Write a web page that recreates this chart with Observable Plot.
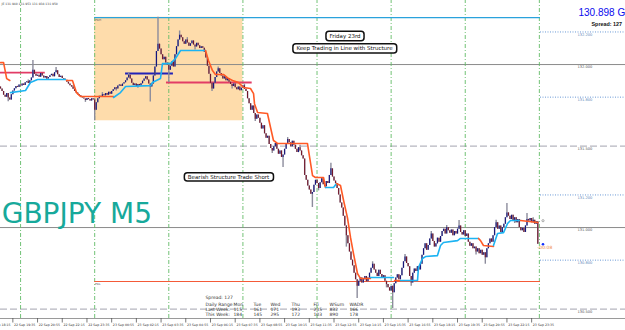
<!DOCTYPE html>
<html><head><meta charset="utf-8">
<script src="https://cdn.jsdelivr.net/npm/d3@7"></script>
<script src="https://cdn.jsdelivr.net/npm/@observablehq/plot@0.6"></script>
<style>html,body{margin:0;padding:0;background:#fff;overflow:hidden}</style>
</head><body><div id="chart"></div>
<script>
// ---------- DATA (prices in points above 130.000, 5-minute bars from 22 Sep 18:55) ----------
const firstBar = "22 Sep 18:55";
const firstOpen = 1862;
const closes = [
1850,1835,1812,1800,1822,1795,1782,
1815,1838,1852,1866,1860,1874,1868,
1880,1872,1888,1895,1884,1900,
1918,1965,1940,1928,
1935,1922,1945,1930,1918,1926,1912,1920,1932,
1940,1925,1950,1962,1938,1920,1928,1915,1910,1903,
1892,1880,1870,1862,1848,1835,1826,1815,1808,1800,
1795,1788,1780,1792,1785,1776,1790,1782,
1720,
1765,1790,1805,1798,1815,1808,1822,1812,1830,1818,1835,
1845,1858,1850,1868,1875,1866,1880,1888,
1900,1918,1935,1912,
1885,1872,1880,1865,1878,1870,1882,
1898,1912,1925,1905,1880,1862,
1880,1930,1985,2080,2125,
2095,2060,2030,2045,2010,1995,1965,1990,2015,1985,
2060,2110,2150,2180,2165,
2140,2125,2150,2132,2112,2128,2145,2120,2108,2130,2115,2098,2110,
2100,2075,
2040,1990,1940,1885,
1850,
1885,1920,1955,1975,
1945,1930,1912,1925,1900,1915,
1892,1878,1865,1880,1858,1845,1862,1840,
1855,1870,1848,1835,
1790,1760,1720,
1745,1700,1665,1690,
1670,1640,1605,1625,
1575,1548,1560,
1510,1485,1470,1495,
1515,1480,1450,1470,1430,1445,
1480,1510,1540,1520,1495,1530,1505,1480,1460,
1490,1470,1440,1420,
1320,
1290,1255,1230,1205,1215,
1260,1290,1270,1240,1275,1300,1262,1250,1282,1270,
1320,1360,
1310,1285,1270,
1240,1200,1150,
1120,1070,1010,950,900,
850,800,765,
720,680,640,
670,690,660,680,700,668,690,
720,750,775,740,
720,700,738,712,690,705,
670,650,630,610,640,600,655,
690,710,680,705,
750,790,820,780,760,
700,660,
720,745,730,760,740,775,
830,870,900,860,890,
930,960,915,880,
900,935,910,945,
975,990,960,1000,980,
965,985,950,975,960,990,1010,
970,955,980,945,960,
910,885,900,870,
880,850,870,840,860,
830,845,815,
870,900,930,910,950,
1000,1030,
990,1010,970,1000,1020,
1060,1090,
1070,1050,1075,1040,1060,1030,1050,
1000,980,995,970,
1010,1050,
1040,1055,1030,1045,1020,1035,
898
];
// visible wicks: [bar, high, low]
const wicks = [[5,null,1772],[18,1906,null],[21,2025,null],[30,null,1905],[36,1982,null],[47,1872,null],[55,null,1768],[61,1790,1655],[66,1828,null],[75,null,1838],[83,1948,null],[89,null,1855],[97,null,1770],[102,2290,null],[109,null,1890],[116,2206,null],[121,2165,null],[126,null,2090],[137,null,1835],[141,1985,null],[150,null,1850],[158,1880,null],[165,null,1650],[176,null,1455],[183,null,1368],[186,1552,null],[194,1505,null],[202,null,1123],[206,null,1225],[214,1395,null],[224,null,880],[231,null,565],[241,790,null],[250,null,630],[254,null,503],[262,835,null],[266,null,640],[279,975,null],[289,1012,null],[297,1043,null],[308,null,832],[314,null,775],[321,1045,null],[328,1147,null],[333,null,1025],[341,1086,null],[345,1060,null]];
// trailing stop line: segments of [bar, points]; dn = above price, up = below price
const trailSegs = [
 ["dn",[[0,2012],[2,2012],[4,1914],[6,1902]]],
 ["up",[[6.5,1828],[16.2,1841],[19.4,1890],[24,1908],[42,1908]]],
 ["dn",[[42.7,1902],[46.6,1902],[49.2,1828],[51.8,1804],[73.2,1804]]],
 ["up",[[73.2,1798],[77.7,1828],[81,1865],[97.2,1871],[98.4,1890],[103.6,1914],[104.9,2006],[110.1,2006],[113.3,2037],[116.6,2086],[132.8,2086]]],
 ["dn",[[132.8,2086],[134.7,2025],[137.3,1963],[139.2,1939],[144.4,1939],[147.7,1914],[150.3,1902],[154.1,1890],[157.4,1859],[161.9,1853],[163.9,1822],[164.5,1760],[166.5,1706],[172.9,1700],[174.9,1614],[176.8,1534],[179.4,1516],[198.8,1516],[199.5,1473],[202.1,1319],[204,1307],[209.2,1307],[210.5,1246]]],
 ["up",[[210.5,1246],[215.7,1246],[217.6,1270]]],
 ["dn",[[217.6,1270],[220.2,1258],[222.2,1166],[224.7,1061],[226.7,939],[228.6,841],[231.2,718],[233.2,687],[239.6,687]]],
 ["up",[[239.6,694],[254.5,694]]],
 ["dn",[[255.2,675],[259.1,675]]],
 ["up",[[259.1,675],[270.1,675],[270.7,755],[273.3,810],[275.3,822],[283,828],[285,890],[286.9,908],[296,920],[297.9,933],[309.6,933]]],
 ["dn",[[309.6,933],[310.9,920],[312.8,890],[319.3,884]]],
 ["up",[[319.3,890],[321.9,963],[325.8,969],[328.4,1025],[330.3,1043],[336.8,1043]]],
 ["dn",[[336.8,1043],[348,1031]]]
];
// structure levels
const structFrom = [0, 81, 107.5];
const structTo = [29, 112, 163];
const structPrice = [131.951, 131.945, 131.890];
const structKind = ["res", "sup", "res"];
const pdh = 132.288, pdl = 130.669;
const sessionStart = "23 Sep 00:00", sessionEnd = "23 Sep 08:00";
const separators = ["22 Sep 20:00","23 Sep 00:00","23 Sep 04:00","23 Sep 08:00","23 Sep 12:00","23 Sep 16:00","23 Sep 20:00","24 Sep 00:00"];
const tickLabels = ["22 Sep 18:15","22 Sep 19:35","22 Sep 20:55","22 Sep 22:15","22 Sep 23:35","23 Sep 00:55","23 Sep 02:15","23 Sep 03:35","23 Sep 04:55","23 Sep 06:15","23 Sep 07:35","23 Sep 08:55","23 Sep 10:15","23 Sep 11:35","23 Sep 12:55","23 Sep 14:15","23 Sep 15:35","23 Sep 16:55","23 Sep 18:15","23 Sep 19:35","23 Sep 20:55","23 Sep 22:15","23 Sep 23:35"];
const priceLevels = [132.2, 132.0, 131.8, 131.5, 131.2, 131.0, 130.8, 130.5];
const priceKinds = ["dot","solid","dot","dash","dot","solid","dot","dash"];
const bid = 130.898;
const statDays = ["Mon","Tue","Wed","Thu","Fri","WSum","WADR"];
const lastWeek = [115,161,171,193,235,832,166];
const thisWeek = [184,145,295,172,103,890,178];
const spread = 127;
const headerText = "JE 131.940 131.953 131.938 131.950";
const annotations = ["Friday 23rd", "Keep Trading in Line with Structure", "Bearish Structure Trade Short"];

// ---------- LAYOUT ----------
const W = 625, H = 330, plotW = 540, plotH = 318;
const pxPerBar = 1.544;
const xMax = plotW / pxPerBar;
const yTop = 132.393, yBot = 130.442;
const xi = px => px / pxPerBar;
const yp = py => yTop - py * (yTop - yBot) / plotH;
const xRight = xi(W);
const P = v => 130 + v / 1000;
const barOf = s => { const [d, , hm] = s.split(" "); const [h, m] = hm.split(":").map(Number);
  return ((+d - 22) * 1440 + h * 60 + m - (18 * 60 + 55)) / 5; };

const wickMap = new Map(wicks.map(([i, h, l]) => [i, {h, l}]));
const bull = "#16167e", bear = "#74162a";
const bars = closes.map((c, i) => {
  const o = i === 0 ? firstOpen : closes[i - 1];
  const top = Math.max(o, c), bot = Math.min(o, c);
  const w = wickMap.get(i) || {};
  return {i, hi: P(w.h != null ? Math.max(w.h, top) : top), lo: P(w.l != null ? Math.min(w.l, bot) : bot),
    bHi: P(Math.max(top, bot + 5)), bLo: P(bot), col: c >= o ? bull : bear};
});
const trail = trailSegs.flatMap(([side, pts], k) => pts.map(([i, v]) => ({i, p: P(v), seg: k, col: side === "dn" ? "#ff5a26" : "#1cb3f2"})));
const s0 = barOf(sessionStart), s1 = barOf(sessionEnd);
const inSess = bars.filter(b => b.i >= s0 && b.i < s1);
const session = {a: s0, b: s1, hi: d3.max(inSess, b => b.hi), lo: d3.min(inSess, b => b.lo)};
const structs = structPrice.map((p, k) => ({a: structFrom[k], b: structTo[k], p, col: structKind[k] === "sup" ? "#2222b8" : "#e23c66"}));
const levels = priceLevels.map((p, k) => ({p, kind: priceKinds[k]}));
const tickIdx = tickLabels.map(barOf);
const labelMap = new Map(tickIdx.map((t, k) => [t, tickLabels[k]]));
const sepIdx = separators.map(barOf);

const F = "DejaVu Sans, Verdana, sans-serif";
const FA = "Liberation Sans, Arial, sans-serif";
const txt = (s, px, py, o = {}) => Plot.text([s], {x: xi(px), y: yp(py), text: d => d, textAnchor: "start", fontFamily: F, fontSize: 4.5, fill: "#333", ...o});

const colX = [233, 253, 270, 291, 313, 329, 349];
const statMarks = [];
statMarks.push(txt("Spread: " + spread, 205, 297.5));
statMarks.push(txt("Daily Range", 205, 304.5));
statMarks.push(txt("Last Week:", 205, 309.5));
statMarks.push(txt("This Week:", 205, 314.5));
statDays.forEach((d, k) => {
  statMarks.push(txt(d, colX[k], 304.5));
  statMarks.push(txt(String(lastWeek[k]), colX[k], 309.5));
  statMarks.push(txt(String(thisWeek[k]), colX[k], 314.5));
});

const svg = Plot.plot({
  width: W, height: H, marginLeft: 0, marginRight: W - plotW, marginTop: 0, marginBottom: H - plotH,
  x: {type: "linear", domain: [0, xMax], axis: null},
  y: {domain: [yBot, yTop], axis: null},
  color: {type: "identity"},
  style: {background: "#fff", fontFamily: FA},
  marks: [
    Plot.rect([session], {x1: "a", x2: "b", y1: "lo", y2: "hi", fill: "#fedcab"}),
    Plot.ruleY(levels.filter(l => l.kind === "dash"), {y: "p", x1: 0, x2: xRight, stroke: "#b6b6c0", strokeWidth: 1.2, strokeDasharray: "7,3"}),
    Plot.ruleY(levels.filter(l => l.kind === "solid"), {y: "p", x1: 0, x2: xRight, stroke: "#8a8a8a", strokeWidth: 1}),
    Plot.ruleY(levels.filter(l => l.kind === "dot"), {y: "p", x1: xMax, x2: xRight, stroke: "#6b9ad6", strokeWidth: 1, strokeDasharray: "1,1.5"}),
    Plot.ruleX(sepIdx, {x: d => d, y1: yBot, y2: yTop, stroke: "#62bb66", strokeWidth: 0.9, strokeDasharray: "4,2,1,2"}),
    Plot.ruleY([pdh], {y: d => d, x1: s0, x2: xMax, stroke: "#2aa2dc", strokeWidth: 1.2}),
    Plot.ruleY([pdl], {y: d => d, x1: s0, x2: xMax, stroke: "#f45a38", strokeWidth: 1.2}),
    Plot.ruleY(structs, {y: "p", x1: "a", x2: "b", stroke: "col", strokeWidth: 1.8}),
    Plot.ruleX(bars, {x: "i", y1: "lo", y2: "hi", stroke: "#8c8c9c", strokeWidth: 1.4}),
    Plot.ruleX(bars, {x: "i", y1: "bLo", y2: "bHi", stroke: "col", strokeWidth: 1.1}),
    Plot.line(trail, {x: "i", y: "p", z: "seg", stroke: "col", strokeWidth: 1.6}),
    // time axis
    Plot.ruleY([yBot], {y: d => d, x1: 0, x2: xRight, stroke: "#9a9a9a", strokeWidth: 1}),
    Plot.ruleX(tickIdx, {x: d => d, y1: yBot, y2: yp(322.5), stroke: "#555", strokeWidth: 0.8}),
    Plot.text(tickIdx, {x: d => d, y: yp(324.5), text: d => labelMap.get(d), textAnchor: "start", dx: 1.2, fontFamily: F, fontSize: 3.2, fill: "#333"}),
    // price labels
    Plot.text(levels, {x: xi(577), y: "p", dy: 2.5, text: d => d.p.toFixed(3), textAnchor: "start", fontFamily: F, fontSize: 3.6, fill: d => d.kind === "dot" ? "#5d86b8" : "#555"}),
    Plot.text([bid], {x: xi(578), y: yp(12.6), text: d => d.toFixed(3) + " G", textAnchor: "start", fontFamily: FA, fontSize: 10, fill: "#0a0aee"}),
    Plot.text(["Spread: " + spread], {x: xi(591), y: yp(23.5), text: d => d, textAnchor: "start", fontFamily: FA, fontSize: 5.4, fontWeight: "bold", fill: "#111"}),
    Plot.dot([bid], {x: xi(542.5), y: d => d, r: 1.3, fill: "#1030ff"}),
    Plot.dot([closes[closes.length - 2]], {x: xi(542.5), y: d => P(d) + 0.007, r: 1.1, stroke: "#888", fill: "none", strokeWidth: 0.7}),
    txt("‹00:08", 537, 247.5, {fill: "#f08a40", fontSize: 4.5}),
    // annotations
    txt(headerText, 1, 3.5, {fontSize: 3, fill: "#444"}),
    txt("PDH", 94.5, 20, {fontSize: 2.9, fill: "#555"}),
    txt("PDL", 94.5, 284, {fontSize: 2.9, fill: "#555"}),
    txt("GBPJPY M5", 1.2, 213.5, {fontSize: 28, fill: "#17a99b", fontFamily: F}),
    txt(annotations[0], 344.5, 35.3, {textAnchor: "middle", fontSize: 5.5, fill: "#111"}),
    txt(annotations[1], 344, 47.6, {textAnchor: "middle", fontSize: 5.5, fill: "#111"}),
    txt(annotations[2], 228, 176.6, {textAnchor: "middle", fontSize: 5.5, fill: "#111"}),
    ...statMarks
  ]
});
document.getElementById("chart").append(svg);
// rounded boxes behind the annotation labels
const annSet = new Set(annotations);
d3.select(svg).selectAll("text").each(function () {
  if (!annSet.has(this.textContent)) return;
  const b = this.getBBox();
  const r = document.createElementNS("http://www.w3.org/2000/svg", "rect");
  r.setAttribute("x", b.x - 3.5); r.setAttribute("y", b.y - 1.2);
  r.setAttribute("width", b.width + 7); r.setAttribute("height", b.height + 2.4);
  r.setAttribute("rx", 3); r.setAttribute("fill", "#fff"); r.setAttribute("stroke", "#111"); r.setAttribute("stroke-width", 1.5);
  const tf = this.getAttribute("transform"); if (tf) r.setAttribute("transform", tf);
  this.parentNode.insertBefore(r, this);
});
</script>
</body></html>
